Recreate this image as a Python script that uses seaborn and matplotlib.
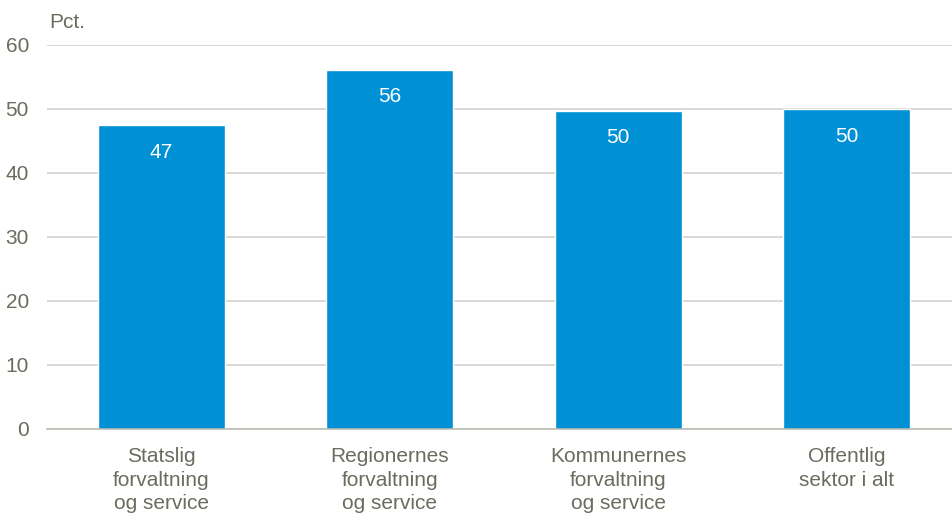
import matplotlib
matplotlib.use("Agg")
import matplotlib.pyplot as plt
import seaborn as sns
import pandas as pd
from matplotlib import font_manager

categories = ["Statslig\nforvaltning\nog service", "Regionernes\nforvaltning\nog service",
              "Kommunernes\nforvaltning\nog service", "Offentlig\nsektor i alt"]
values = [47.45, 56.1, 49.7, 50.0]
yticks = [0, 10, 20, 30, 40, 50, 60]

sns.set_theme(style="white")
names = {f.name for f in font_manager.fontManager.ttflist}
fam = "Liberation Sans Narrow" if "Liberation Sans Narrow" in names else "Liberation Sans"
plt.rcParams['font.family'] = [fam, 'DejaVu Sans']

txt = "#6b6b5e"
df = pd.DataFrame({"cat": categories, "val": values})

fig = plt.figure(figsize=(9.52, 5.14), dpi=100)
ax = fig.add_axes([47/952, 85/514, 914/952, 384/514])
sns.barplot(data=df, x="cat", y="val", color="#0090d6", saturation=1, width=0.556, ax=ax)

ax.set_ylim(0, 60)
ax.set_xlim(-0.5, 3.5)
ax.set_yticks(yticks)
ax.set_yticklabels([str(t) for t in yticks], fontsize=15, color=txt)
ax.yaxis.grid(True, color="#cfcfc8", linewidth=1.1)
ax.set_axisbelow(True)
for s in ["top", "right", "left"]:
    ax.spines[s].set_visible(False)
ax.spines["bottom"].set_color("#b8b8b0")
ax.spines["bottom"].set_linewidth(1.1)
ax.tick_params(axis="y", length=0, pad=13)
ax.tick_params(axis="x", length=0, pad=13)
for lab in ax.get_xticklabels():
    lab.set_fontsize(15)
    lab.set_color(txt)
    lab.set_linespacing(1.3)
ax.set_xlabel("")
ax.set_ylabel("")

for i, v in enumerate(values):
    ax.annotate(f"{v:.0f}", (i, v), xytext=(0, -27), textcoords="offset pixels",
                ha="center", va="center", color="white", fontsize=15)

fig.text(49/952, 1 - 22/514, "Pct.", fontsize=15, color=txt, ha="left", va="center")

fig.savefig("out.png", dpi=100)
